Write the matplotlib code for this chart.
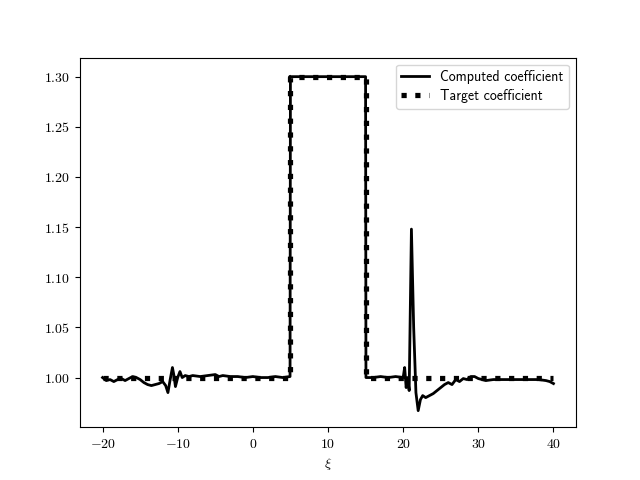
import numpy as np
import matplotlib
matplotlib.use("Agg")
import matplotlib.pyplot as plt
from matplotlib.ticker import FuncFormatter

plt.rcParams['mathtext.fontset'] = 'cm'

# computed coefficient
xi_comp = [-20.0, -19.5, -19.0, -18.5, -18.0, -17.5, -17.0, -16.5, -16.0, -15.5,
           -15.0, -14.5, -14.0, -13.5, -13.0, -12.5, -12.0, -11.6, -11.3, -11.0,
           -10.7, -10.5, -10.3, -10.0, -9.7, -9.4, -9.0, -8.5, -8.0, -7.0,
           -6.0, -5.0, -4.5, -4.0, -3.0, -2.0, -1.0, 0.0, 1.0, 2.0,
           3.0, 4.0, 4.95, 5.0, 10.0, 15.0, 15.05, 16.0, 17.0, 18.0,
           19.0, 20.0, 20.2, 20.4, 20.6, 20.8, 21.1, 21.4, 21.7, 22.0,
           22.3, 22.6, 23.0, 23.5, 24.0, 24.5, 25.0, 25.5, 26.0, 26.5,
           27.0, 27.5, 28.0, 28.5, 29.0, 29.5, 30.0, 31.0, 32.0, 35.0,
           38.0, 39.0, 39.5, 40.0]
c_comp = [1.000, 0.997, 0.998, 0.996, 0.998, 0.999, 0.997, 0.999, 1.001, 1.000,
          0.998, 0.995, 0.993, 0.992, 0.993, 0.994, 0.996, 0.992, 0.985, 0.998,
          1.010, 1.002, 0.991, 1.000, 1.006, 1.000, 1.002, 1.001, 1.002, 1.001,
          1.002, 1.003, 1.001, 1.002, 1.001, 1.001, 1.000, 1.001, 1.000, 1.000,
          1.001, 1.000, 1.001, 1.300, 1.300, 1.300, 1.000, 1.000, 1.001, 1.000,
          1.001, 1.000, 1.010, 0.990, 1.000, 0.987, 1.148, 1.050, 0.985, 0.967,
          0.978, 0.982, 0.980, 0.982, 0.984, 0.987, 0.990, 0.993, 0.995, 0.993,
          0.998, 0.996, 0.999, 0.998, 1.001, 1.001, 0.999, 0.997, 0.998, 0.998,
          0.998, 0.997, 0.996, 0.994]

# target coefficient (step)
xi_targ = [-20.0, 5.0, 5.0, 15.0, 15.0, 40.0]
c_targ = [1.0, 1.0, 1.3, 1.3, 1.0, 1.0]

fig, ax = plt.subplots(figsize=(6.4, 4.8), dpi=100)
ax.plot(xi_comp, c_comp, 'k-', lw=2, label='Computed coefficient')
ax.plot(xi_targ, c_targ, 'k:', lw=3.75, label='Target coefficient')

ax.set_ylim(0.9505, 1.319)
ax.xaxis.set_major_formatter(FuncFormatter(lambda v, p: r'$%d$' % v))
ax.yaxis.set_major_formatter(FuncFormatter(lambda v, p: r'$%.2f$' % v))
ax.set_xlabel(r'$\xi$')
ax.legend(loc='upper right', prop={'family': 'cmss10'}, labelspacing=0.35)

fig.savefig('out.png')
